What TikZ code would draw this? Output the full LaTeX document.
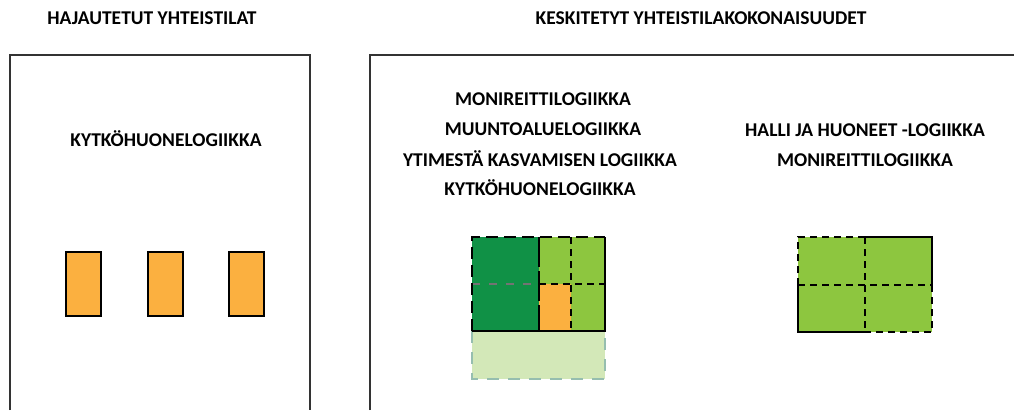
\documentclass[tikz,border=0pt]{standalone}
\usepackage{fontspec}
\setmainfont{Carlito}
\usepackage{tikz}
\usetikzlibrary{positioning}

\definecolor{tilaorange}{RGB}{251,176,64}
\definecolor{tummavihrea}{RGB}{16,145,70}
\definecolor{vaaleavihrea}{RGB}{141,198,63}
\definecolor{haaleavihrea}{RGB}{211,232,184}
\definecolor{reunaharmaa}{RGB}{150,190,175}

\begin{document}
\begin{tikzpicture}[x=1pt, y=-1pt, node distance=29.7pt,
    title/.style={font=\fontsize{19.5}{23}\selectfont\bfseries, inner sep=0pt},
    logic/.style={font=\fontsize{19.5}{23}\selectfont\bfseries, inner sep=0pt},
    frame/.style={draw=black!80, line width=1.2pt},
    room/.style={draw=black, line width=1.5pt, fill=tilaorange},
    cellline/.style={draw=black, line width=1.4pt, dash pattern=on 7pt off 5pt},
    edgeline/.style={draw=black, line width=1.4pt}]

\useasboundingbox (0,0) rectangle (1014,410);

% otsikot
\node[title] (hajautetut) at (152,18) {HAJAUTETUT YHTEISTILAT};
\node[title] (keskitetyt) at (701,18) {KESKITETYT YHTEISTILAKOKONAISUUDET};

% kehykset
\draw[frame] (10,410) -- (10,55) -- (310,55) -- (310,410);
\draw[frame] (370,410) -- (370,55) -- (1014,55);

% hajautetut tilat
\node[logic] (kytkoA) at (166,139) {KYTKÖHUONELOGIIKKA};
\foreach \x/\n in {66/1, 148/2, 229/3}
    \draw[room] (\x,252) rectangle ++(35,64);

% keskitetty kokonaisuus 1
\node[logic] (moniA) at (543,99) {MONIREITTILOGIIKKA};
\node[logic, below of=moniA] (muunto) {MUUNTOALUELOGIIKKA};
\node[logic, below of=muunto, xshift=-3pt] (ydin) {YTIMESTÄ KASVAMISEN LOGIIKKA};
\node[logic, below of=ydin] (kytkoB) {KYTKÖHUONELOGIIKKA};

\fill[haaleavihrea] (472,331) rectangle (605,379);
\draw[reunaharmaa, line width=1.4pt, dash pattern=on 12pt off 9pt] (472,331) -- (472,379) -- (605,379) -- (605,331);
\fill[tummavihrea] (472,237) rectangle (539,331);
\fill[vaaleavihrea] (539,237) rectangle (605,331);
\fill[tilaorange] (539,284) rectangle (571,331);
\draw[black!55, line width=1.4pt, dash pattern=on 8pt off 9pt] (472,284) -- (539,284);
\draw[cellline, dash pattern=on 30pt off 4pt] (539,237) -- (539,331);
\draw[cellline] (571,237) -- (571,331);
\draw[cellline] (539,284) -- (605,284);
\draw[cellline, dash pattern=on 12pt off 6pt] (472,331) -- (472,237) -- (605,237);
\draw[edgeline] (472,331) -- (605,331) -- (605,237);

% keskitetty kokonaisuus 2
\node[logic] (halli) at (865,130) {HALLI JA HUONEET -LOGIIKKA};
\node[logic, below of=halli] (moniB) {MONIREITTILOGIIKKA};

\fill[vaaleavihrea] (798,237) rectangle (932,332);
\draw[cellline] (865,237) -- (865,332);
\draw[cellline] (798,285) -- (932,285);
\draw[cellline] (798,285) -- (798,237) -- (865,237);
\draw[edgeline] (865,237) -- (932,237) -- (932,285);
\draw[cellline] (932,285) -- (932,332) -- (865,332);
\draw[edgeline] (865,332) -- (798,332) -- (798,285);

\end{tikzpicture}
\end{document}
